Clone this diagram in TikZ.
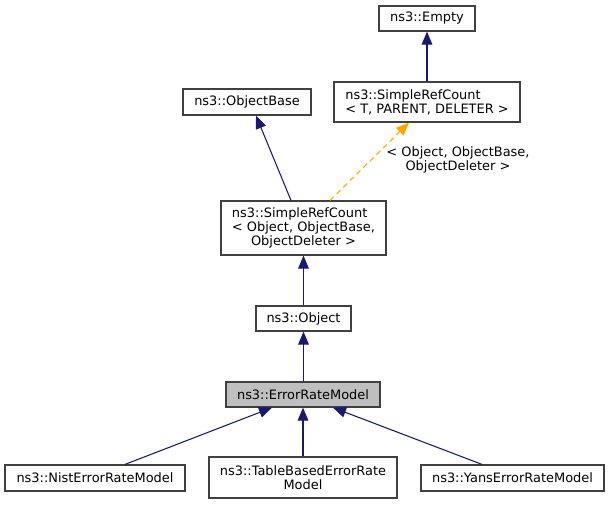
\documentclass[tikz,border=0pt]{standalone}
\usepackage{fontspec}
\setmainfont{DejaVu Sans}
\usetikzlibrary{arrows.meta,calc}
\definecolor{edgeblue}{HTML}{191970}
\definecolor{boxgray}{HTML}{404040}
\definecolor{fillgray}{HTML}{BFBFBF}
\definecolor{inhorange}{HTML}{FFA500}
\begin{document}
\begin{tikzpicture}[x=0.75pt,y=-0.75pt,
  font=\fontsize{9.7}{10.6}\selectfont,
  cls/.style={draw=boxgray,line width=0.9pt,fill=white,inner sep=0pt,align=center},
  hl/.style={cls,fill=fillgray},
  inh/.style={draw=edgeblue,line width=0.8pt,-{Triangle[length=9.75pt,width=8pt]}},
  tmpl/.style={draw=inhorange,line width=0.8pt,dash pattern=on 4pt off 3pt,-{Triangle[length=9.75pt,width=8pt]}},
  lbl/.style={inner sep=0pt,align=center}]
\useasboundingbox (0,0) rectangle (609,504);
\node[cls,minimum width=72pt,minimum height=18.75pt] (empty) at (427,18.5) {ns3::Empty};
\node[cls,minimum width=139.5pt,minimum height=30pt] (srct) at (427,102)
  {\rlap{ns3::SimpleRefCount}\phantom{< T, PARENT, DELETER >}\\< T, PARENT, DELETER >};
\node[cls,minimum width=96pt,minimum height=19.5pt] (objbase) at (247,102) {ns3::ObjectBase};
\node[cls,minimum width=123.75pt,minimum height=40.5pt] (srco) at (303.5,228)
  {\rlap{ns3::SimpleRefCount}\phantom{< Object, ObjectBase,}\\< Object, ObjectBase,\\ObjectDeleter >};
\node[cls,minimum width=71.25pt,minimum height=18.75pt] (obj) at (303.5,318.5) {ns3::Object};
\node[hl,minimum width=115.5pt,minimum height=18.75pt] (erm) at (303,394.5) {ns3::ErrorRateModel};
\node[cls,minimum width=135pt,minimum height=19.5pt] (nist) at (95,478) {ns3::NistErrorRateModel};
\node[cls,minimum width=141pt,minimum height=30.75pt] (table) at (303,477.5) {ns3::TableBasedErrorRate\\Model};
\node[cls,minimum width=137.25pt,minimum height=19.5pt] (yans) at (512.5,478) {ns3::YansErrorRateModel};
\node[lbl] (tlabel) at (458,160) {< Object, ObjectBase,\\ObjectDeleter >};
\draw[inh] (srct.north) -- (empty.south);
\draw[inh] ($(srco.north)+(-12.5,0)$) -- ($(objbase.south)+(9,0)$);
\draw[tmpl] ($(srco.north)+(26.5,0)$) -- ($(srct.south)+(-18,0)$);
\draw[inh] (obj.north) -- (srco.south);
\draw[inh] (erm.north -| obj.north) -- (obj.south);
\draw[inh] ($(nist.north)+(30,0)$) -- ($(erm.south)+(-31,0)$);
\draw[inh] (table.north) -- (table.north |- erm.south);
\draw[inh] ($(yans.north)+(-30.5,0)$) -- ($(erm.south)+(30,0)$);
\end{tikzpicture}
\end{document}
